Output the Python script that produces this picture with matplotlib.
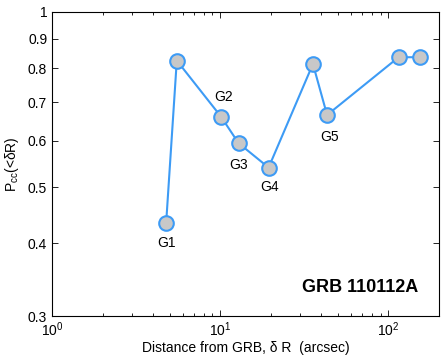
import matplotlib
matplotlib.use('Agg')
import matplotlib.pyplot as plt
from matplotlib.ticker import FixedLocator, FixedFormatter, NullFormatter

plt.rcParams['font.family'] = ['Liberation Sans', 'DejaVu Sans']
plt.rcParams['mathtext.fontset'] = 'custom'
plt.rcParams['mathtext.rm'] = 'Liberation Sans'
plt.rcParams['mathtext.it'] = 'Liberation Sans:italic'

# distance from GRB (arcsec) and chance coincidence probability
dist = [4.77, 5.52, 10.1, 12.85, 19.4, 35.6, 43.2, 115, 155]
pcc = [0.433, 0.825, 0.661, 0.595, 0.540, 0.814, 0.665, 0.836, 0.836]
labels = ['G1', '', 'G2', 'G3', 'G4', '', 'G5', '', '']
label_offsets = [(0, -14), None, (2, 14), (0, -16), (1, -14), None, (2, -16), None, None]

yticks = [0.3, 0.4, 0.5, 0.6, 0.7, 0.8, 0.9, 1]
ytick_labels = ['0.3', '0.4', '0.5', '0.6', '0.7', '0.8', '0.9', '1']

fig = plt.figure(figsize=(4.43, 3.58), dpi=100)
ax = fig.add_axes([0.1174, 0.1173, 0.8736, 0.8492])

ax.plot(dist, pcc, '-o', color='#3d9bf5', lw=1.5, ms=10.5,
        mfc='#c8c8c8', mec='#3d9bf5', mew=1.5)

for x, y, s, off in zip(dist, pcc, labels, label_offsets):
    if s:
        ax.annotate(s, (x, y), xytext=off, textcoords='offset points',
                    ha='center', va='center', fontsize=10)

ax.set_xscale('log')
ax.set_yscale('log')
ax.set_xlim(1, 200)
ax.set_ylim(0.3, 1)

ax.yaxis.set_major_locator(FixedLocator(yticks))
ax.yaxis.set_major_formatter(FixedFormatter(ytick_labels))
ax.yaxis.set_minor_locator(FixedLocator([]))
ax.yaxis.set_minor_formatter(NullFormatter())

ax.tick_params(which='both', direction='in', top=True, right=True, labelsize=10,
               width=0.6)
ax.tick_params(which='major', length=4)
ax.tick_params(which='minor', length=2.5)
for sp in ax.spines.values():
    sp.set_linewidth(0.8)

ax.set_xlabel(r'Distance from GRB, δ R  (arcsec)', fontsize=10, labelpad=1)
ax.set_ylabel(r'P$_{\rm cc}$(<δR)', fontsize=10, labelpad=5)

ax.text(0.947, 0.095, 'GRB 110112A', transform=ax.transAxes, ha='right',
        va='center', fontsize=13, fontweight='bold')

fig.savefig('out.png', dpi=100)
